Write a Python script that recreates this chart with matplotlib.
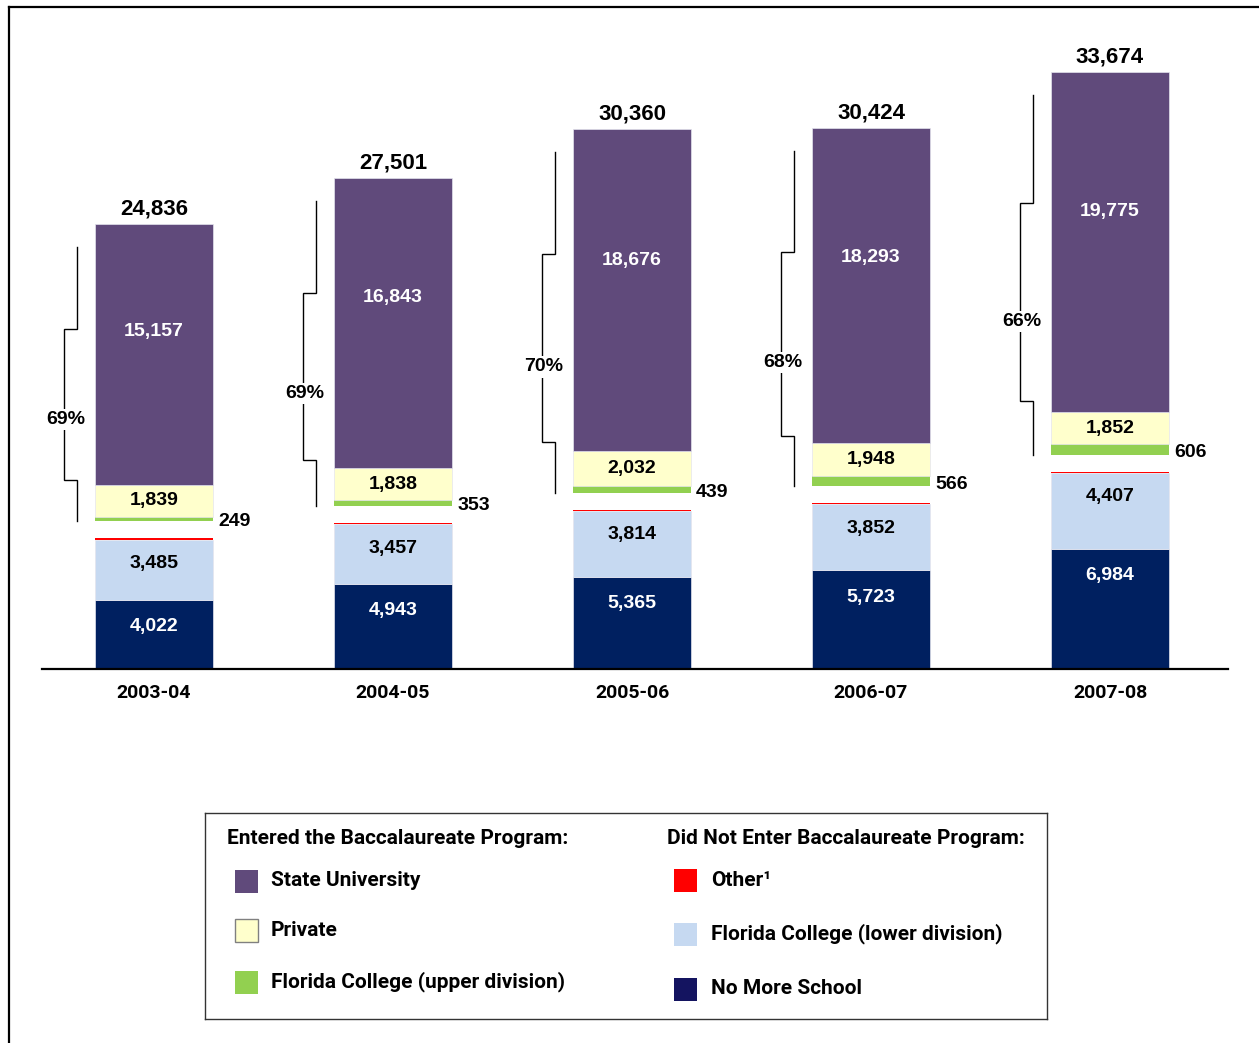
import matplotlib
matplotlib.use('Agg')
import matplotlib.pyplot as plt
from matplotlib.patches import Rectangle
from matplotlib.lines import Line2D

# ---------------- data ----------------
years = ['2003-04', '2004-05', '2005-06', '2006-07', '2007-08']
no_more_school = [4022, 4943, 5365, 5723, 6984]
fc_lower = [3485, 3457, 3814, 3852, 4407]
other = [84, 67, 34, 42, 50]
fc_upper = [249, 353, 439, 566, 606]
private = [1839, 1838, 2032, 1948, 1852]
state_univ = [15157, 16843, 18676, 18293, 19775]
totals = [24836, 27501, 30360, 30424, 33674]
bacc_pct = ['69%', '69%', '70%', '68%', '66%']

left_header = 'Entered the Baccalaureate Program:'
right_header = 'Did Not Enter Baccalaureate Program:'
left_names = ['State University', 'Private', 'Florida College (upper division)']
right_names = ['Other\u00b9', 'Florida College (lower division)', 'No More School']

C_STATE = '#604A7B'
C_PRIV = '#FFFFCC'
C_UPPER = '#92D050'
C_OTHER = '#FF0000'
C_LOWER = '#C6D9F1'
C_NMS = '#002060'

# ---------------- layout ----------------
W, H = 1259, 1043
UPX = 58.08          # data units per pixel
GAP = 1000           # visual gap between the two groups
BAR_W = 0.494
PX_X = 239.0         # pixels per category

NUM_FONT = 'Liberation Sans'
TXT_FONT = 'Roboto'

fig = plt.figure(figsize=(W / 100, H / 100), dpi=100)
ax = fig.add_axes([42 / W, (H - 669) / H, 1186 / W, 649 / H])
ax.set_ylim(0, 649 * UPX)
ax.set_xlim(-112 / PX_X, 4 + 118 / PX_X)

xs = list(range(len(years)))
edge = dict(edgecolor='#E4E4EE', linewidth=0.5)

b0 = [0] * 5
ax.bar(xs, no_more_school, BAR_W, bottom=b0, color=C_NMS, **edge)
b1 = [b0[i] + no_more_school[i] for i in xs]
ax.bar(xs, fc_lower, BAR_W, bottom=b1, color=C_LOWER, **edge)
b2 = [b1[i] + fc_lower[i] for i in xs]
ax.bar(xs, other, BAR_W, bottom=b2, color=C_OTHER, linewidth=0)
b3 = [b2[i] + other[i] + GAP for i in xs]
ax.bar(xs, fc_upper, BAR_W, bottom=b3, color=C_UPPER, linewidth=0)
b4 = [b3[i] + fc_upper[i] for i in xs]
ax.bar(xs, private, BAR_W, bottom=b4, color=C_PRIV, **edge)
b5 = [b4[i] + private[i] for i in xs]
ax.bar(xs, state_univ, BAR_W, bottom=b5, color=C_STATE, **edge)
tops = [b5[i] + state_univ[i] for i in xs]

lab = dict(fontfamily=NUM_FONT, fontweight='bold', fontsize=14)
for i in xs:
    # No more school
    ax.text(i, b1[i] - 27 * UPX, f'{no_more_school[i]:,}', ha='center', va='center', color='white', **lab)
    # lower division
    ax.text(i, b2[i] - 24 * UPX, f'{fc_lower[i]:,}', ha='center', va='center', color='black', **lab)
    # upper division (right of bar)
    ax.text(i + BAR_W / 2 + 5 / PX_X, b3[i] + fc_upper[i] / 2 - 3 * UPX, f'{fc_upper[i]:,}',
            ha='left', va='center', color='black', **lab)
    # private
    ax.text(i, b4[i] + private[i] / 2, f'{private[i]:,}', ha='center', va='center', color='black', **lab)
    # state university
    ax.text(i, b5[i] + 0.59 * state_univ[i], f'{state_univ[i]:,}', ha='center', va='center', color='white', **lab)
    # total
    ax.text(i, tops[i] + 15 * UPX, f'{totals[i]:,}', ha='center', va='center', color='black',
            fontfamily=NUM_FONT, fontweight='bold', fontsize=16)

    # bracket
    B = b3[i]
    T = tops[i] - 23 * UPX
    span = T - B
    xr = i - BAR_W / 2 - 18 / PX_X
    xl = i - BAR_W / 2 - 31 / PX_X
    k1 = T - 0.30 * span
    k2 = T - 0.85 * span
    ax.plot([xr, xr, xl, xl, xr, xr], [T, k1, k1, k2, k2, B], color='black', linewidth=1.0,
            solid_joinstyle='miter', zorder=3)
    ax.text(xl + 2 / PX_X, T - 0.63 * span, bacc_pct[i], ha='center', va='center', color='black',
            bbox=dict(facecolor='white', edgecolor='none', pad=1.5), zorder=4, **lab)

ax.set_xticks(xs)
ax.set_xticklabels(years)
for t in ax.get_xticklabels():
    t.set_fontfamily(TXT_FONT)
    t.set_fontweight('bold')
    t.set_fontsize(14)
ax.tick_params(axis='x', length=0, pad=11)
ax.set_yticks([])
for s in ['left', 'right', 'top']:
    ax.spines[s].set_visible(False)
ax.spines['bottom'].set_linewidth(1.6)
ax.spines['bottom'].set_color('black')

# ---------------- legend ----------------
lx0, ly0, lw, lh = 205, 813, 842, 206
lax = fig.add_axes([lx0 / W, (H - ly0 - lh) / H, lw / W, lh / H])
lax.set_xlim(0, lw)
lax.set_ylim(lh, 0)
lax.set_xticks([])
lax.set_yticks([])
for s in lax.spines.values():
    s.set_linewidth(1.0)
    s.set_color('#333333')

leg_txt = dict(fontfamily=TXT_FONT, fontweight='bold', fontsize=15, va='center', ha='left')
lax.text(22, 25, left_header, **leg_txt)
lax.text(462, 25, right_header, **leg_txt)

left_cols = [C_STATE, C_PRIV, C_UPPER]
left_y = [68, 117, 169]
for name, c, y in zip(left_names, left_cols, left_y):
    ec = '#808080' if c == C_PRIV else 'none'
    lax.add_patch(Rectangle((30, y - 11.5), 23, 23, facecolor=c, edgecolor=ec, linewidth=1))
    lax.text(66, y, name, **leg_txt)

right_cols = [C_OTHER, C_LOWER, '#141460']
right_y = [67, 121, 176]
for name, c, y in zip(right_names, right_cols, right_y):
    lax.add_patch(Rectangle((469, y - 11.5), 23, 23, facecolor=c, edgecolor='none'))
    lax.text(506, y, name, **leg_txt)

# outer frame (clipped at right/bottom)
fig.add_artist(Line2D([9 / W, 9 / W], [1 - 7 / H, 0], transform=fig.transFigure, color='black', linewidth=1.6))
fig.add_artist(Line2D([9 / W, 1], [1 - 7 / H, 1 - 7 / H], transform=fig.transFigure, color='black', linewidth=1.6))

fig.savefig('out.png', dpi=100)
